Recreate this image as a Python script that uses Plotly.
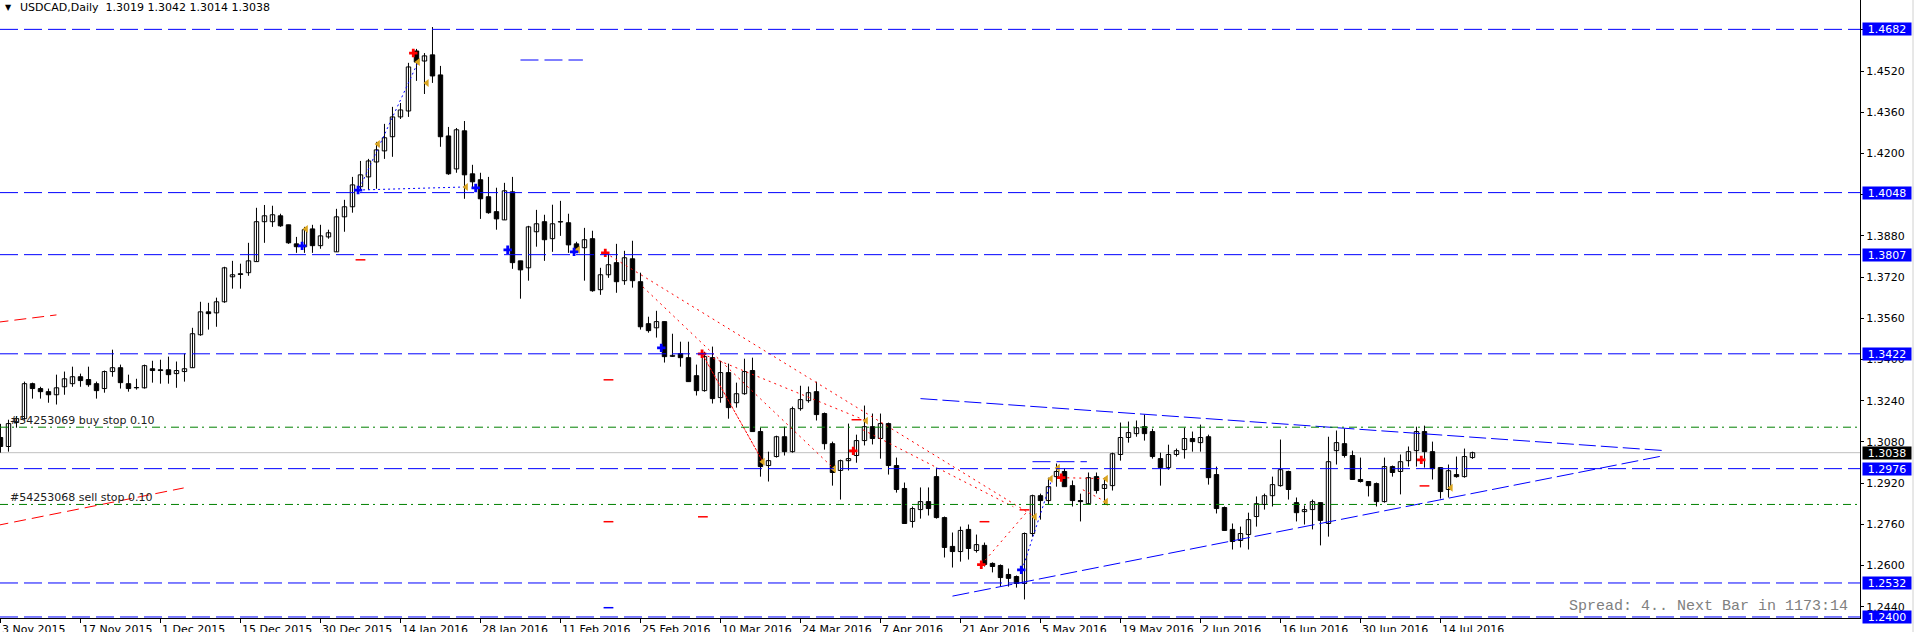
import plotly.graph_objects as go

# ---------------- data ----------------
bar_index = list(range(185))
opens = [1.3097,1.3062,1.3155,1.3170,1.3306,1.3287,1.3275,1.3263,1.3294,1.3306,
         1.3333,1.3322,1.3306,1.3287,1.3353,1.3368,1.3306,1.3290,1.3290,1.3364,
         1.3360,1.3360,1.3345,1.3353,1.3368,1.3496,1.3585,1.3581,1.3624,1.3721,
         1.3733,1.3737,1.3780,1.3935,1.3935,1.3958,1.3923,1.3849,1.3838,1.3907,
         1.3842,1.3876,1.3818,1.3954,1.3993,1.4071,1.4109,1.4167,1.4210,1.4265,
         1.4342,1.4365,1.4598,1.4559,1.4583,1.4505,1.4268,1.4140,1.4288,1.4121,
         1.4098,1.4032,1.3974,1.3942,1.4051,1.3783,1.3756,1.3896,1.3935,1.3869,
         1.3935,1.3931,1.3849,1.3834,1.3869,1.3671,1.3729,1.3776,1.3706,1.3791,
         1.3702,1.3539,1.3523,1.3547,1.3412,1.3423,1.3407,1.3337,1.3279,1.3407,
         1.3252,1.3349,1.3232,1.3267,1.3357,1.3120,1.2988,1.3023,1.3100,1.3042,
         1.3209,1.3240,1.3275,1.3190,1.3073,1.2969,1.3007,1.3027,1.3085,1.3139,
         1.3093,1.3151,1.2988,1.2899,1.2771,1.2817,1.2848,1.2945,1.2786,1.2674,
         1.2654,1.2740,1.2658,1.2678,1.2608,1.2600,1.2565,1.2557,1.2530,1.2724,
         1.2871,1.2852,1.2945,1.2965,1.2910,1.2852,1.2840,1.2945,1.2899,1.2910,
         1.3031,1.3097,1.3112,1.3139,1.3120,1.3015,1.2980,1.3031,1.3050,1.3093,
         1.3077,1.3100,1.2953,1.2825,1.2740,1.2697,1.2720,1.2790,1.2837,1.2871,
         1.2910,1.2965,1.2844,1.2809,1.2817,1.2844,1.2763,1.3046,1.3073,1.3027,
         1.2934,1.2926,1.2918,1.2848,1.2984,1.2965,1.3007,1.3046,1.3120,1.3042,
         1.2980,1.2895,1.2953,1.2945,1.3019]
highs = [1.3150,1.3166,1.3180,1.3314,1.3310,1.3294,1.3287,1.3341,1.3353,1.3372,
         1.3345,1.3372,1.3314,1.3357,1.3438,1.3380,1.3341,1.3325,1.3380,1.3395,
         1.3399,1.3411,1.3392,1.3423,1.3523,1.3624,1.3620,1.3640,1.3760,1.3783,
         1.3772,1.3853,1.3989,1.4000,1.3997,1.3966,1.3923,1.3876,1.3915,1.3923,
         1.3923,1.3904,1.3985,1.4020,1.4109,1.4171,1.4179,1.4245,1.4315,1.4381,
         1.4396,1.4552,1.4606,1.4590,1.4691,1.4540,1.4303,1.4299,1.4326,1.4156,
         1.4125,1.4109,1.4067,1.4086,1.4109,1.3783,1.3919,1.3981,1.3962,1.4001,
         1.4016,1.3966,1.3857,1.3911,1.3900,1.3756,1.3814,1.3849,1.3822,1.3861,
         1.3737,1.3566,1.3589,1.3547,1.3500,1.3469,1.3469,1.3380,1.3430,1.3450,
         1.3395,1.3384,1.3310,1.3403,1.3407,1.3135,1.3042,1.3104,1.3139,1.3217,
         1.3298,1.3295,1.3314,1.3194,1.3081,1.3011,1.3151,1.3108,1.3221,1.3190,
         1.3190,1.3155,1.3019,1.2922,1.2829,1.2903,1.2903,1.2980,1.2790,1.2728,
         1.2751,1.2759,1.2720,1.2689,1.2612,1.2604,1.2588,1.2561,1.2728,1.2875,
         1.2879,1.2941,1.2996,1.2976,1.2930,1.2879,1.2961,1.2961,1.2941,1.3038,
         1.3155,1.3159,1.3163,1.3186,1.3131,1.3038,1.3069,1.3054,1.3135,1.3120,
         1.3147,1.3108,1.2984,1.2829,1.2763,1.2751,1.2805,1.2868,1.2879,1.2945,
         1.3089,1.2968,1.2864,1.2833,1.2856,1.2844,1.3100,1.3124,1.3131,1.3046,
         1.3019,1.2926,1.2922,1.3019,1.2988,1.3031,1.3062,1.3139,1.3143,1.3081,
         1.2980,1.2992,1.3023,1.3054,1.3042]
lows = [1.3038,1.3042,1.3135,1.3166,1.3248,1.3248,1.3232,1.3225,1.3263,1.3294,
        1.3294,1.3294,1.3248,1.3271,1.3333,1.3287,1.3275,1.3283,1.3287,1.3310,
        1.3306,1.3306,1.3290,1.3314,1.3368,1.3492,1.3516,1.3527,1.3620,1.3675,
        1.3675,1.3725,1.3780,1.3853,1.3915,1.3915,1.3849,1.3814,1.3814,1.3814,
        1.3830,1.3869,1.3818,1.3896,1.3970,1.4059,1.4059,1.4063,1.4179,1.4187,
        1.4334,1.4342,1.4482,1.4431,1.4474,1.4226,1.4117,1.4125,1.4024,1.4067,
        1.3946,1.3966,1.3904,1.3942,1.3752,1.3636,1.3706,1.3838,1.3783,1.3818,
        1.3880,1.3814,1.3814,1.3706,1.3663,1.3651,1.3717,1.3659,1.3690,1.3679,
        1.3516,1.3504,1.3485,1.3388,1.3410,1.3372,1.3314,1.3260,1.3275,1.3229,
        1.3232,1.3170,1.3213,1.3263,1.3120,1.2945,1.2926,1.3019,1.3027,1.3038,
        1.3201,1.3232,1.3163,1.3050,1.2910,1.2856,1.2969,1.2999,1.3066,1.3070,
        1.3015,1.2953,1.2883,1.2763,1.2747,1.2782,1.2794,1.2782,1.2631,1.2592,
        1.2615,1.2623,1.2650,1.2596,1.2573,1.2518,1.2518,1.2514,1.2468,1.2712,
        1.2778,1.2837,1.2906,1.2906,1.2829,1.2771,1.2837,1.2879,1.2837,1.2891,
        1.3007,1.3077,1.3100,1.3085,1.3015,1.2910,1.2972,1.3023,1.3015,1.3042,
        1.3042,1.2914,1.2802,1.2736,1.2662,1.2670,1.2662,1.2751,1.2817,1.2829,
        1.2906,1.2856,1.2771,1.2759,1.2740,1.2678,1.2712,1.2992,1.3019,1.2934,
        1.2922,1.2868,1.2829,1.2844,1.2945,1.2876,1.2984,1.2984,1.2980,1.2934,
        1.2860,1.2864,1.2941,1.2941,1.3014]
closes = [1.3062,1.3151,1.3170,1.3306,1.3287,1.3275,1.3263,1.3290,1.3325,1.3333,
          1.3318,1.3302,1.3279,1.3353,1.3368,1.3310,1.3287,1.3291,1.3376,1.3357,
          1.3357,1.3341,1.3357,1.3364,1.3500,1.3585,1.3578,1.3624,1.3756,1.3729,
          1.3730,1.3783,1.3935,1.3958,1.3962,1.3919,1.3853,1.3838,1.3904,1.3842,
          1.3880,1.3892,1.3954,1.3993,1.4078,1.4117,1.4171,1.4214,1.4261,1.4342,
          1.4369,1.4536,1.4555,1.4579,1.4501,1.4265,1.4121,1.4292,1.4117,1.4090,
          1.4024,1.3970,1.3946,1.4055,1.3776,1.3748,1.3915,1.3927,1.3865,1.3927,
          1.3934,1.3845,1.3826,1.3865,1.3667,1.3729,1.3768,1.3702,1.3795,1.3706,
          1.3527,1.3512,1.3547,1.3411,1.3416,1.3407,1.3314,1.3279,1.3411,1.3248,
          1.3349,1.3213,1.3267,1.3353,1.3120,1.2984,1.3007,1.3100,1.3042,1.3209,
          1.3244,1.3271,1.3186,1.3073,1.2961,1.3007,1.3015,1.3085,1.3139,1.3093,
          1.3151,1.2988,1.2895,1.2763,1.2821,1.2848,1.2821,1.2786,1.2670,1.2654,
          1.2736,1.2666,1.2681,1.2604,1.2596,1.2553,1.2550,1.2530,1.2724,1.2871,
          1.2852,1.2906,1.2965,1.2906,1.2852,1.2848,1.2941,1.2891,1.2914,1.3034,
          1.3097,1.3116,1.3135,1.3112,1.3023,1.2980,1.3031,1.3046,1.3093,1.3081,
          1.3097,1.2941,1.2821,1.2736,1.2693,1.2724,1.2778,1.2840,1.2871,1.2914,
          1.2972,1.2895,1.2805,1.2817,1.2848,1.2775,1.3003,1.3077,1.3027,1.2934,
          1.2926,1.2910,1.2848,1.2984,1.2961,1.3003,1.3042,1.3120,1.3042,1.2976,
          1.2887,1.2968,1.2945,1.3023,1.3038]

tick_index = [0, 10, 20, 30, 40, 50, 60, 70, 80, 90, 100, 110, 120, 130, 140, 150, 160, 170, 180]
tick_labels = ["3 Nov 2015", "17 Nov 2015", "1 Dec 2015", "15 Dec 2015", "30 Dec 2015",
               "14 Jan 2016", "28 Jan 2016", "11 Feb 2016", "25 Feb 2016", "10 Mar 2016",
               "24 Mar 2016", "7 Apr 2016", "21 Apr 2016", "5 May 2016", "19 May 2016",
               "2 Jun 2016", "16 Jun 2016", "30 Jun 2016", "14 Jul 2016"]
price_ticks = [1.2440, 1.2600, 1.2760, 1.2920, 1.3080, 1.3240, 1.3400, 1.3560,
               1.3720, 1.3880, 1.4040, 1.4200, 1.4360, 1.4520, 1.4680]

level_prices = [1.4682, 1.4048, 1.3807, 1.3422, 1.2976, 1.2532, 1.2400]
buy_stop_price = 1.3137
sell_stop_price = 1.2837
buy_stop_text = "#54253069 buy stop 0.10"
sell_stop_text = "#54253068 sell stop 0.10"
spread_text = "Spread: 4.. Next Bar in 1173:14"
symbol_text = "USDCAD,Daily"

# trend lines (bar index, price)
tri_upper_x, tri_upper_y = [115, 208], [1.3248, 1.3046]
tri_lower_x, tri_lower_y = [119, 208], [1.2481, 1.3027]
red_left_a_x, red_left_a_y = [-0.5, 7.0], [1.3544, 1.3573]
red_left_b_x, red_left_b_y = [-0.5, 22.9], [1.2755, 1.2901]
fan_1_x, fan_1_y = [75.6, 129.3], [1.3814, 1.2789]
fan_2_x, fan_2_y = [80.3, 104.2], [1.3682, 1.2975]
fan_3_x, fan_3_y = [87.7, 108.2], [1.3422, 1.3162]
fan_4_x, fan_4_y = [87.7, 95.3], [1.3422, 1.3003]
fan_5_x, fan_5_y = [107.8, 126.6], [1.3127, 1.2828]
fan_6_x, fan_6_y = [122.6, 128.3], [1.2603, 1.2808]
fan_7_x, fan_7_y = [132.6, 138.2], [1.2941, 1.2937]
fan_8_x, fan_8_y = [135.3, 138.2], [1.2894, 1.2847]
blue_dot_1_x, blue_dot_1_y = [44.9, 52.2], [1.4066, 1.4555]
blue_dot_2_x, blue_dot_2_y = [44.7, 58.2], [1.4058, 1.4070]
blue_dot_3_x, blue_dot_3_y = [127.7, 131.4], [1.2583, 1.2933]
blue_seg_1_x, blue_seg_1_y = [65.0, 72.8], [1.4563, 1.4563]
blue_seg_2_x, blue_seg_2_y = [129.0, 135.8], [1.3003, 1.3003]

# trade markers
close_mark_x = [52.2, 53.3, 47.2, 58.2, 38.2, 72.2, 95.3, 108.2, 104.2, 132.2, 131.3, 138.2, 138.2, 181.3, 129.3]
close_mark_y = [1.4555, 1.4474, 1.4237, 1.4070, 1.3907, 1.3826, 1.3003, 1.3162, 1.2975, 1.2979, 1.2937, 1.2937, 1.2847, 1.2902, 1.2789]
buy_mark_x = [44.7, 71.7, 63.4, 59.4, 37.7, 82.6, 127.6]
buy_mark_y = [1.4058, 1.3818, 1.3826, 1.4066, 1.3841, 1.3445, 1.2583]
sell_mark_x = [51.6, 75.6, 87.7, 106.6, 122.6, 132.6, 177.6]
sell_mark_y = [1.4590, 1.3814, 1.3422, 1.3045, 1.2603, 1.2941, 1.3010]
red_tick_x = [45.0, 76.0, 76.0, 87.8, 123.0, 107.0, 128.0, 178.0]
red_tick_y = [1.3787, 1.3321, 1.2770, 1.2789, 1.2770, 1.3166, 1.2816, 1.2909]
blue_tick_x = [76.0]
blue_tick_y = [1.2436]

# ---------------- figure ----------------
fig = go.Figure()

wick_x, wick_y = [], []
for i, h, l in zip(bar_index, highs, lows):
    wick_x += [i, i, None]
    wick_y += [l, h, None]
fig.add_trace(go.Scatter(x=wick_x, y=wick_y, mode="lines",
                         line=dict(color="black", width=1), hoverinfo="skip"))

body_base = [min(o, c) for o, c in zip(opens, closes)]
body_len = [max(abs(c - o), 0.00012) for o, c in zip(opens, closes)]
body_fill = ["white" if c >= o else "black" for o, c in zip(opens, closes)]
fig.add_trace(go.Bar(x=bar_index, y=body_len, base=body_base, width=0.55,
                     marker=dict(color=body_fill, line=dict(color="black", width=1)),
                     hoverinfo="skip"))


def add_line(xs, ys, color, dash, width=1):
    fig.add_trace(go.Scatter(x=xs, y=ys, mode="lines",
                             line=dict(color=color, width=width, dash=dash),
                             hoverinfo="skip"))


add_line(tri_upper_x, tri_upper_y, "#0000FF", "17px,5px")
add_line(tri_lower_x, tri_lower_y, "#0000FF", "17px,5px")
add_line(red_left_a_x, red_left_a_y, "#FF0000", "12px,6px")
add_line(red_left_b_x, red_left_b_y, "#FF0000", "12px,6px")
for fx, fy in [(fan_1_x, fan_1_y), (fan_2_x, fan_2_y), (fan_3_x, fan_3_y),
               (fan_5_x, fan_5_y), (fan_6_x, fan_6_y), (fan_7_x, fan_7_y),
               (fan_8_x, fan_8_y)]:
    add_line(fx, fy, "#FF0000", "2px,4px")
add_line(fan_4_x, fan_4_y, "#FF0000", "3px,1px")
for bx, by in [(blue_dot_1_x, blue_dot_1_y), (blue_dot_2_x, blue_dot_2_y),
               (blue_dot_3_x, blue_dot_3_y)]:
    add_line(bx, by, "#0000FF", "2px,3px")
add_line(blue_seg_1_x, blue_seg_1_y, "#0000FF", "18px,6px")
add_line(blue_seg_2_x, blue_seg_2_y, "#0000FF", "18px,6px")

fig.add_trace(go.Scatter(x=close_mark_x, y=close_mark_y, mode="markers",
                         marker=dict(symbol="triangle-left", size=7, color="#DAA520"),
                         hoverinfo="skip"))
fig.add_trace(go.Scatter(x=buy_mark_x, y=buy_mark_y, mode="markers",
                         marker=dict(symbol="cross", size=7, color="#0000FF"),
                         hoverinfo="skip"))
fig.add_trace(go.Scatter(x=sell_mark_x, y=sell_mark_y, mode="markers",
                         marker=dict(symbol="cross", size=7, color="#FF0000"),
                         hoverinfo="skip"))
fig.add_trace(go.Scatter(x=red_tick_x, y=red_tick_y, mode="markers",
                         marker=dict(symbol="line-ew", size=7, line=dict(color="#FF0000", width=1.5)),
                         hoverinfo="skip"))
fig.add_trace(go.Scatter(x=blue_tick_x, y=blue_tick_y, mode="markers",
                         marker=dict(symbol="line-ew", size=7, line=dict(color="#0000FF", width=1.5)),
                         hoverinfo="skip"))

# horizontal levels
for p in level_prices:
    fig.add_shape(type="line", xref="paper", x0=0, x1=1, yref="y", y0=p, y1=p,
                  line=dict(color="#0000FF", width=1, dash="18px,6px"))
for p in [buy_stop_price, sell_stop_price]:
    fig.add_shape(type="line", xref="paper", x0=0, x1=1, yref="y", y0=p, y1=p,
                  line=dict(color="#008000", width=1, dash="8px,4px,2px,5px"))
last_close = closes[-1]
fig.add_shape(type="line", xref="paper", x0=0, x1=1, yref="y", y0=last_close, y1=last_close,
              line=dict(color="#C0C0C0", width=1), layer="below")
fig.add_shape(type="line", xref="paper", x0=1.0285, x1=1.0285, yref="paper", y0=-0.03, y1=1,
              line=dict(color="#D0D0D0", width=1))

# right axis price boxes
for p in level_prices:
    fig.add_annotation(x=1, xref="paper", xanchor="left", xshift=2, y=p, yref="y",
                       text=f"{p:.4f}", showarrow=False, bgcolor="#0000FF",
                       font=dict(family="DejaVu Sans", size=11, color="white"),
                       width=48, height=12, borderpad=0)
fig.add_annotation(x=1, xref="paper", xanchor="left", xshift=2, y=last_close, yref="y",
                   text=f"{last_close:.4f}", showarrow=False, bgcolor="black",
                   font=dict(family="DejaVu Sans", size=11, color="white"),
                   width=48, height=12, borderpad=0)

# x labels (MT4 style, to the right of the tick)
for t, lab in zip(tick_index, tick_labels):
    fig.add_annotation(x=t, xref="x", xanchor="left", xshift=0, y=0, yref="paper",
                       yanchor="top", yshift=-3, text=lab, showarrow=False,
                       font=dict(family="DejaVu Sans", size=11, color="black"))

# order labels
fig.add_annotation(x=1, xref="x", xanchor="left", y=buy_stop_price, yref="y", yanchor="bottom",
                   yshift=-2, text=buy_stop_text, showarrow=False,
                   font=dict(family="DejaVu Sans", size=11, color="#202020"))
fig.add_annotation(x=1, xref="x", xanchor="left", y=sell_stop_price, yref="y", yanchor="bottom",
                   yshift=-2, text=sell_stop_text, showarrow=False,
                   font=dict(family="DejaVu Sans", size=11, color="#202020"))

# spread text
fig.add_annotation(x=1850 / 1860, xref="paper", xanchor="right", y=(618 - 606.7) / 618,
                   yref="paper", yanchor="middle", text=spread_text, showarrow=False,
                   font=dict(family="Liberation Mono", size=15, color="#808080"))

# title
title_text = (f"{symbol_text}  {opens[-1]:.4f} {highs[-1]:.4f} "
              f"{lows[-1]:.4f} {closes[-1]:.4f}")
fig.add_annotation(x=3 / 1860, xref="paper", xanchor="left", y=1 - 7.5 / 618, yref="paper",
                   yanchor="middle", text="\u25BC", showarrow=False,
                   font=dict(family="DejaVu Sans", size=8, color="black"))
fig.add_annotation(x=18 / 1860, xref="paper", xanchor="left", y=1 - 7.5 / 618, yref="paper",
                   yanchor="middle", text=title_text, showarrow=False,
                   font=dict(family="DejaVu Sans", size=11, color="black"))

fig.update_layout(width=1918, height=632, margin=dict(l=0, r=58, t=0, b=14, autoexpand=False),
                  paper_bgcolor="white", plot_bgcolor="white", showlegend=False,
                  barmode="overlay", font=dict(family="DejaVu Sans", size=11, color="black"))
fig.update_xaxes(range=[-0.06, 232.44], tickvals=tick_index, showticklabels=False,
                 ticks="outside", ticklen=4, tickcolor="black", showline=True,
                 linecolor="black", linewidth=1, showgrid=False, zeroline=False,
                 automargin=False)
fig.update_yaxes(side="right", range=[1.2396, 1.4796], tickvals=price_ticks, tickformat=".4f",
                 ticks="outside", ticklen=3, tickcolor="black", showline=True,
                 linecolor="black", linewidth=1, showgrid=False, zeroline=False,
                 automargin=False, tickfont=dict(family="DejaVu Sans", size=11, color="black"))

fig.write_html("out.html")
